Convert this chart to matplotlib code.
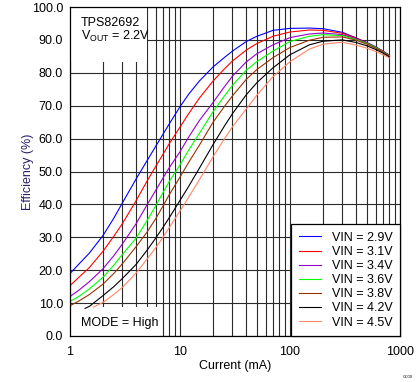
import matplotlib
matplotlib.use("Agg")
import matplotlib.pyplot as plt
from matplotlib.patches import Rectangle
from matplotlib.ticker import FixedLocator, NullFormatter

plt.rcParams["font.family"] = ["Liberation Sans", "DejaVu Sans"]
plt.rcParams["mathtext.fontset"] = "custom"
plt.rcParams["mathtext.rm"] = "Liberation Sans"

# load current (mA)
current = [1, 1.2, 1.5, 2, 2.5, 3, 4, 5, 6, 7, 8, 10, 12, 15, 20, 25, 30, 40, 50,
           70, 100, 150, 200, 300, 400, 500, 600, 700, 800]
current_42 = [1.37, 1.5, 2, 2.5, 3, 4, 5, 6, 7, 8, 10, 12, 15, 20, 25, 30, 40, 50,
              70, 100, 150, 200, 300, 400, 500, 600, 700, 800]
current_45 = [1.63, 2, 2.5, 3, 4, 5, 6, 7, 8, 10, 12, 15, 20, 25, 30, 40, 50,
              70, 100, 150, 200, 300, 400, 500, 600, 700, 800]

# efficiency (%)
eff_29 = [19.0, 21.8, 25.2, 30.6, 35.8, 40.5, 47.8, 53.2, 57.6, 61.3, 64.5, 69.7, 73.5,
          77.5, 81.8, 84.5, 86.6, 89.5, 91.1, 92.9, 93.5, 93.6, 93.4, 92.3, 90.6,
          89.2, 87.9, 86.6, 85.3]
eff_31 = [15.3, 17.8, 20.8, 25.8, 30.3, 34.2, 41.2, 47.0, 51.5, 55.2, 58.5, 63.5, 67.6,
          72.3, 77.5, 81.0, 83.6, 86.9, 88.9, 91.1, 92.4, 93.0, 92.9, 92.0, 90.5,
          89.1, 87.8, 86.6, 85.3]
eff_34 = [12.0, 13.9, 16.5, 20.5, 24.4, 28.0, 34.2, 39.8, 44.2, 48.0, 51.2, 56.0, 60.5,
          65.5, 71.0, 75.5, 79.0, 83.3, 85.8, 88.5, 90.7, 91.8, 92.1, 91.6, 90.3,
          89.0, 87.8, 86.5, 85.2]
eff_36 = [10.5, 12.0, 14.3, 17.9, 21.5, 24.8, 29.8, 35.0, 39.5, 43.6, 47.0, 52.0, 56.5,
          61.6, 68.2, 72.7, 76.2, 80.8, 83.4, 86.6, 89.5, 91.1, 91.6, 91.3, 90.1,
          88.9, 87.7, 86.4, 85.1]
eff_38 = [9.2, 10.6, 12.6, 15.8, 19.0, 22.0, 27.2, 31.5, 35.6, 39.5, 43.0, 48.3, 52.8,
          58.0, 65.0, 69.5, 73.0, 78.0, 81.0, 84.6, 87.7, 89.9, 90.8, 90.9, 89.9,
          88.7, 87.5, 86.3, 85.0]
eff_42 = [8.4, 9.0, 12.3, 15.0, 17.5, 21.8, 26.0, 29.7, 33.0, 36.0, 41.2, 45.5, 51.0,
          58.2, 63.5, 67.6, 73.3, 77.0, 81.5, 85.5, 88.5, 89.6, 90.0, 89.2, 88.2,
          87.1, 86.0, 84.8]
eff_45 = [8.8, 10.2, 12.6, 14.8, 19.2, 23.3, 26.8, 30.0, 33.0, 38.0, 42.2, 47.5, 54.5,
          59.6, 63.6, 69.0, 73.2, 78.8, 83.4, 87.2, 88.7, 89.3, 88.4, 87.5, 86.5,
          85.5, 84.5]

labels = ["VIN = 2.9V", "VIN = 3.1V", "VIN = 3.4V", "VIN = 3.6V",
          "VIN = 3.8V", "VIN = 4.2V", "VIN = 4.5V"]
colors = ["#0000ff", "#ff0000", "#9900cc", "#00ff00", "#993300", "#000000", "#ff8866"]

series = [
    (current, eff_29), (current, eff_31), (current, eff_34), (current, eff_36),
    (current, eff_38), (current_42, eff_42), (current_45, eff_45),
]

fig = plt.figure(figsize=(4.19, 3.82), dpi=100)
ax = fig.add_axes([70 / 419, 1 - 336 / 382, 330 / 419, 329 / 382])

for (x, y), lab, c in zip(series, labels, colors):
    ax.plot(x, y, color=c, lw=0.8, label=lab)

ax.set_xscale("log")
ax.set_xlim(1, 1000)
ax.set_ylim(0, 100)

ax.xaxis.set_major_locator(FixedLocator([1, 10, 100, 1000]))
ax.set_xticklabels(["1", "10", "100", "1000"])
minors = [m * 10 ** d for d in range(3) for m in range(2, 10)]
ax.xaxis.set_minor_locator(FixedLocator(minors))
ax.xaxis.set_minor_formatter(NullFormatter())
ax.set_yticks(range(0, 101, 10))
ax.set_yticklabels([f"{v:.1f}" for v in range(0, 101, 10)])
ax.tick_params(which="both", length=0, labelsize=9)
ax.tick_params(axis="x", pad=7)
ax.tick_params(axis="y", pad=5)

ax.set_axisbelow(True)
ax.grid(True, which="both", color="#2a2a2a", lw=0.8)
for s in ax.spines.values():
    s.set_color("black")
    s.set_linewidth(0.9)

# white boxes behind annotations (hide the grid)
ax.add_patch(Rectangle((0, 0.833), 0.233, 0.167, transform=ax.transAxes,
                       facecolor="white", edgecolor="none", zorder=1))
ax.add_patch(Rectangle((0, 0), 0.273, 0.088, transform=ax.transAxes,
                       facecolor="white", edgecolor="none", zorder=1))

ax.text(0.033, 0.97, "TPS82692\nV$_{\\mathrm{OUT}}$ = 2.2V", transform=ax.transAxes,
        fontsize=9, va="top", ha="left", linespacing=1.0)
ax.text(0.033, 0.04, "MODE = High", transform=ax.transAxes,
        fontsize=9, va="center", ha="left")

ax.set_xlabel("Current (mA)", fontsize=9, labelpad=2)
ax.set_ylabel("Efficiency (%)", fontsize=9, color="#2b1f6b")
ax.yaxis.set_label_coords(-0.109, 0.5)

leg = ax.legend(loc="lower right", fontsize=9, frameon=True, fancybox=False,
                borderaxespad=0, handlelength=1.75, handletextpad=0.9,
                labelspacing=0.17, borderpad=0.6)
leg.get_frame().set_edgecolor("black")
leg.get_frame().set_linewidth(0.9)
leg.get_frame().set_alpha(1)

fig.text(408 / 419, 1 - 377 / 382, "G000", fontsize=3, ha="center", va="center")

fig.savefig("out.png", dpi=100)
